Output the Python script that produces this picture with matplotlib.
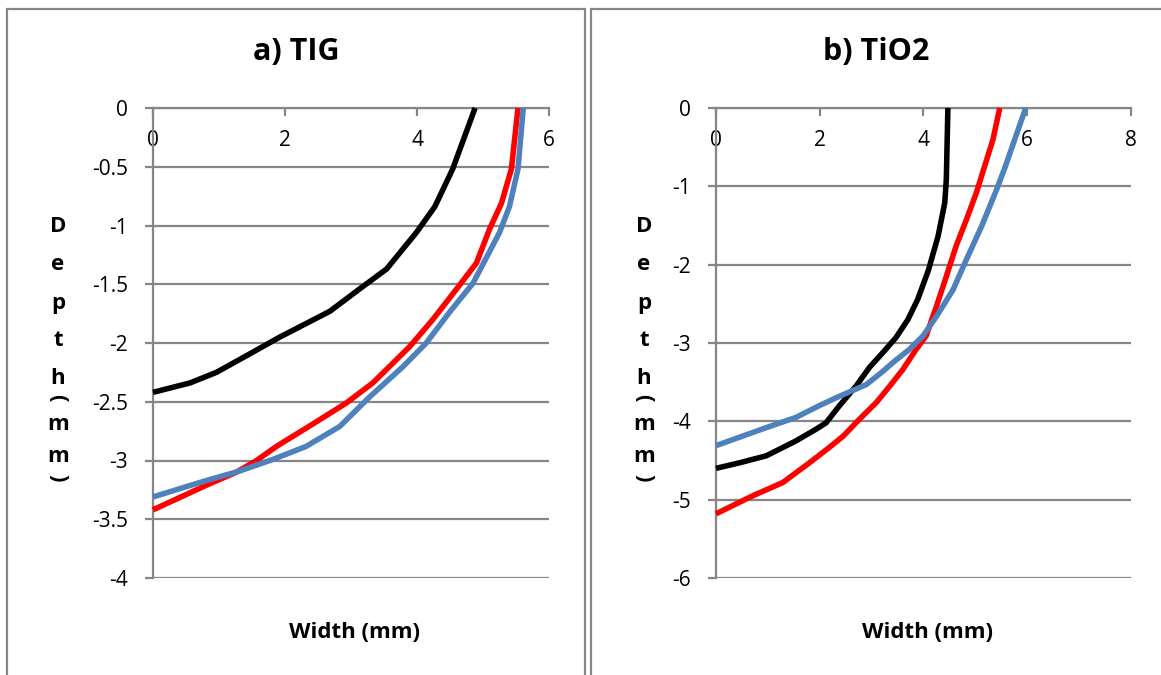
import matplotlib.pyplot as plt
from matplotlib.patches import Rectangle

plt.rcParams['font.family'] = ['Open Sans', 'DejaVu Sans']
plt.rcParams['axes.unicode_minus'] = False

# a) TIG
tig_black_x = [4.88, 4.54, 4.27, 3.99, 3.54, 3.13, 2.68, 1.92, 1.41, 0.96, 0.56, 0.0]
tig_black_y = [0.0, -0.52, -0.84, -1.06, -1.37, -1.54, -1.73, -1.95, -2.11, -2.25, -2.34, -2.42]
tig_red_x = [5.53, 5.43, 5.28, 5.10, 4.90, 4.60, 4.24, 3.89, 3.33, 2.93, 2.42, 1.87, 1.57, 1.26, 0.81, 0.0]
tig_red_y = [0.0, -0.52, -0.81, -1.03, -1.32, -1.54, -1.80, -2.03, -2.34, -2.51, -2.69, -2.88, -3.00, -3.10, -3.21, -3.42]
tig_blue_x = [5.61, 5.53, 5.40, 5.25, 4.85, 4.49, 4.14, 3.79, 3.28, 2.83, 2.32, 1.82, 1.31, 0.81, 0.0]
tig_blue_y = [0.0, -0.52, -0.84, -1.06, -1.49, -1.74, -2.00, -2.20, -2.46, -2.71, -2.88, -2.99, -3.09, -3.17, -3.31]

# b) TiO2
tio2_black_x = [4.47, 4.44, 4.41, 4.28, 4.09, 3.89, 3.70, 3.47, 3.22, 2.96, 2.70, 2.38, 2.12, 1.93, 1.54, 0.97, 0.45, 0.0]
tio2_black_y = [0.0, -0.91, -1.21, -1.64, -2.08, -2.44, -2.70, -2.93, -3.12, -3.31, -3.55, -3.80, -4.02, -4.10, -4.25, -4.44, -4.53, -4.60]
tio2_red_x = [5.47, 5.34, 5.18, 5.02, 4.83, 4.63, 4.44, 4.25, 4.05, 3.86, 3.60, 3.35, 3.09, 2.77, 2.45, 2.19, 1.80, 1.29, 0.71, 0.0]
tio2_red_y = [0.0, -0.40, -0.74, -1.08, -1.42, -1.76, -2.15, -2.53, -2.91, -3.08, -3.34, -3.55, -3.76, -3.97, -4.19, -4.33, -4.53, -4.78, -4.95, -5.18]
tio2_blue_x = [5.97, 5.57, 5.41, 5.12, 4.83, 4.57, 4.25, 3.99, 3.73, 3.41, 3.22, 2.90, 2.38, 1.99, 1.54, 0.97, 0.0]
tio2_blue_y = [0.0, -0.76, -1.04, -1.51, -1.93, -2.32, -2.66, -2.91, -3.08, -3.25, -3.36, -3.53, -3.68, -3.80, -3.95, -4.08, -4.31]

tig_xticks = [0, 2, 4, 6]
tig_yticks = [0, -0.5, -1, -1.5, -2, -2.5, -3, -3.5, -4]
tig_ylabels = ['0', '-0.5', '-1', '-1.5', '-2', '-2.5', '-3', '-3.5', '-4']
tio2_xticks = [0, 2, 4, 6, 8]
tio2_yticks = [0, -1, -2, -3, -4, -5, -6]
tio2_ylabels = ['0', '-1', '-2', '-3', '-4', '-5', '-6']

titles = ['a) TIG', 'b) TiO2']
ylabel_chars = ['D', 'e', 'p', 't', 'h', '(', 'm', 'm', ')']

W, H = 1161, 675
fig = plt.figure(figsize=(W / 100, H / 100), dpi=100)
grey = '#868686'


def px(x0, y0, x1, y1):
    return [x0 / W, 1 - y1 / H, (x1 - x0) / W, (y1 - y0) / H]


# panel frames
fig.patches.append(Rectangle((7 / W, -0.1), (585 - 7) / W, 1.1 - 9 / H, transform=fig.transFigure,
                             fill=False, edgecolor=grey, linewidth=1.6))
fig.patches.append(Rectangle((591 / W, -0.1), 0.5, 1.1 - 9 / H, transform=fig.transFigure,
                             fill=False, edgecolor=grey, linewidth=1.6))

panels = [
    (px(153, 108, 549, 578), (0, 6), (-4, 0), tig_xticks, tig_yticks, tig_ylabels,
     [(tig_black_x, tig_black_y), (tig_red_x, tig_red_y), (tig_blue_x, tig_blue_y)], 296, 58),
    (px(716, 108, 1131, 578), (0, 8), (-6, 0), tio2_xticks, tio2_yticks, tio2_ylabels,
     [(tio2_black_x, tio2_black_y), (tio2_red_x, tio2_red_y), (tio2_blue_x, tio2_blue_y)], 876, 644),
]
colors = ['black', '#FF0000', '#4F81BD']

for i, (rect, xl, yl, xt, yt, ylab, series, tx, lx) in enumerate(panels):
    ax = fig.add_axes(rect)
    for (xs, ys), c in zip(series, colors):
        ax.plot(xs, ys, color=c, linewidth=4.0, solid_joinstyle='round', solid_capstyle='butt',
                zorder=3, clip_on=False)
    ax.set_xlim(*xl)
    ax.set_ylim(*yl)
    ax.set_xticks(xt)
    ax.set_xticklabels([str(v) for v in xt])
    ax.set_yticks(yt)
    ax.set_yticklabels(ylab)
    ax.grid(axis='y', color=grey, linewidth=1.6)
    ax.set_axisbelow(True)
    for s in ['right', 'bottom']:
        ax.spines[s].set_visible(False)
    for s in ['left', 'top']:
        ax.spines[s].set_color(grey)
        ax.spines[s].set_linewidth(1.6)
    ax.tick_params(axis='x', top=True, bottom=False, labeltop=True, labelbottom=False,
                   direction='in', length=6, width=1.6, color=grey, pad=-31, labelsize=15)
    ax.tick_params(axis='y', direction='out', length=6, width=1.6, color=grey, pad=12, labelsize=15)

    fig.text(tx / W, 1 - 52 / H, titles[i], ha='center', va='center', fontsize=22, fontweight='bold')
    cx = (rect[0] + rect[2] / 2)
    fig.text(cx + 4 / W, 1 - 633 / H, 'Width (mm)', ha='center', va='center', fontsize=16,
             fontweight='bold')
    ys_px = [227, 265, 303, 341, 378, 398, 424, 456, 478]
    for ch, yp in zip(ylabel_chars, ys_px):
        rot = -90 if ch in '()' else 0
        fig.text(lx / W, 1 - yp / H, ch, ha='center', va='center', fontsize=16,
                 fontweight='bold', rotation=rot)

fig.savefig('out.png', dpi=100)
